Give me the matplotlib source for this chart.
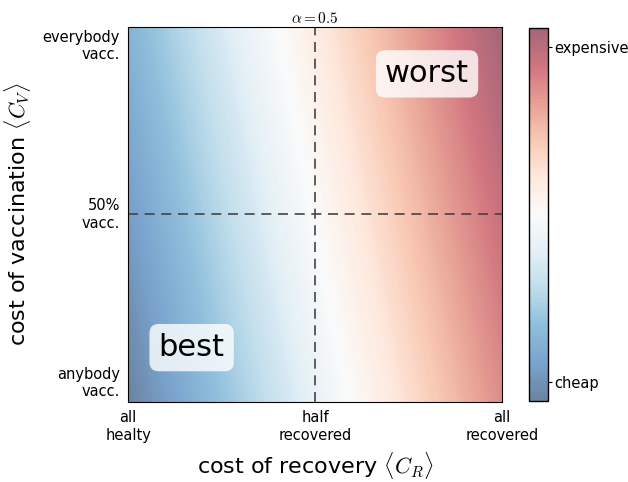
import numpy as np
import matplotlib
matplotlib.use("Agg")
import matplotlib.pyplot as plt
from matplotlib.colors import ListedColormap

plt.rcParams['mathtext.fontset'] = 'cm'
plt.rcParams['font.family'] = ['DejaVu Sans']

# cost values on a coarse grid
# columns: share recovered 0, .25, .5, .75, 1 ; rows: share vaccinated 0, .5, 1
recovered_pts = [0.0, 0.25, 0.5, 0.75, 1.0]
vaccinated_pts = [0.0, 0.5, 1.0]
cost_grid = [
    [0.00, 0.21, 0.42, 0.63, 0.84],
    [0.08, 0.29, 0.50, 0.71, 0.92],
    [0.16, 0.37, 0.58, 0.79, 1.00],
]
alpha_value = 0.5

x_ticks = [0.0, 0.5, 1.0]
x_labels = ["all\nhealty", "half\nrecovered", "all\nrecovered"]
y_ticks = [0.05, 0.5, 0.95]
y_labels = ["anybody\nvacc.", "50%\nvacc.", "everybody\nvacc."]
cbar_ticks = [0.05, 0.95]
cbar_labels = ["cheap", "expensive"]

# washed-out RdBu_r (as if drawn semi-transparent on white)
base = plt.get_cmap('RdBu_r')(np.linspace(0, 1, 256))
fade = 0.6
base[:, :3] = fade * base[:, :3] + (1 - fade)
cmap = ListedColormap(base)

fig = plt.figure(figsize=(6.28, 4.82), dpi=100, facecolor='white')
ax = fig.add_axes([0.204, 0.166, 0.595, 0.778])
cax = fig.add_axes([0.842, 0.168, 0.03, 0.774])

X, Y = np.meshgrid(recovered_pts, vaccinated_pts)
cf = ax.contourf(X, Y, np.array(cost_grid), levels=np.linspace(0, 1, 121),
                 cmap=cmap, vmin=0, vmax=1, antialiased=False)

ax.axvline(0.5, color='#444444', ls='--', lw=1.2, dashes=(6, 4))
ax.axhline(0.5, color='#444444', ls='--', lw=1.2, dashes=(6, 4))

ax.set_xlim(0, 1)
ax.set_ylim(0, 1)
ax.set_xticks(x_ticks)
ax.set_xticklabels(x_labels, fontsize=10.5)
ax.set_yticks(y_ticks)
ax.set_yticklabels(y_labels, fontsize=10.5, ha='right', va='center')
ax.tick_params(length=0, pad=6)
ax.set_xlabel(r"cost of recovery $\langle C_R\rangle$", fontsize=16, labelpad=5)
ax.set_ylabel(r"cost of vaccination $\langle C_V\rangle$", fontsize=16, labelpad=7)
ax.set_title(r"$\alpha=%.1f$" % alpha_value, fontsize=11, pad=3)

box = dict(boxstyle='round,pad=0.3', facecolor='white', edgecolor='none', alpha=0.8)
ax.text(0.17, 0.145, "best", fontsize=22, ha='center', va='center', bbox=box,
        transform=ax.transAxes)
ax.text(0.80, 0.875, "worst", fontsize=22, ha='center', va='center', bbox=box,
        transform=ax.transAxes)

cb = fig.colorbar(cf, cax=cax)
cb.set_ticks(cbar_ticks)
cb.set_ticklabels(cbar_labels, fontsize=10.5)
cb.ax.tick_params(length=3, pad=2)
cb.outline.set_linewidth(1.0)

fig.savefig("out.png", dpi=100, facecolor='white')
